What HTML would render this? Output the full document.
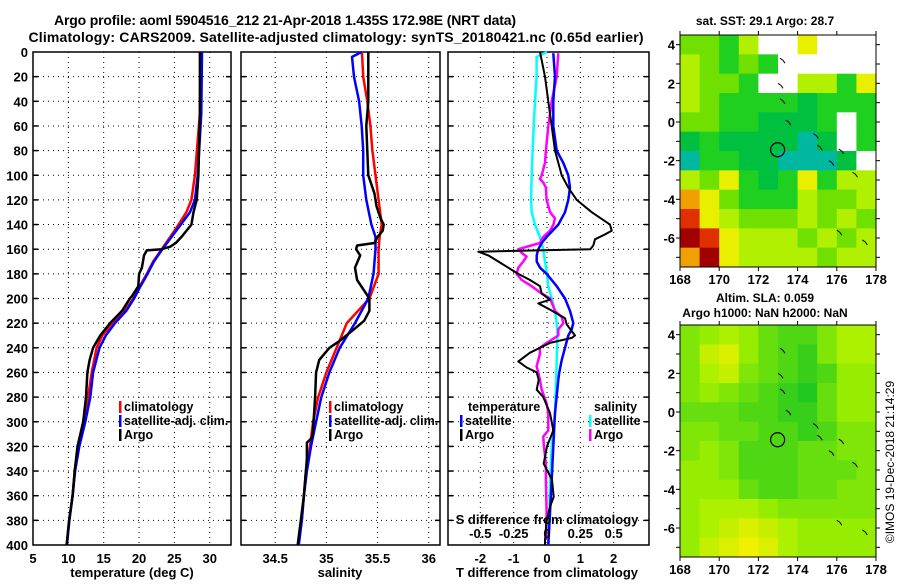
<!DOCTYPE html>
<html><head><meta charset="utf-8">
<style>
html,body{margin:0;padding:0;background:#fff;}
svg text{font-family:"Liberation Sans",Arial,sans-serif;font-weight:bold;fill:#000;}
</style></head>
<body>
<svg id="fig" width="900" height="580" xmlns="http://www.w3.org/2000/svg">
<text x="285" y="25" text-anchor="middle" font-size="14" textLength="462">Argo profile: aoml 5904516_212 21-Apr-2018 1.435S 172.98E (NRT data)</text>
<text x="336" y="42" text-anchor="middle" font-size="14" textLength="615">Climatology: CARS2009. Satellite-adjusted climatology: synTS_20180421.nc (0.65d earlier)</text>
<text x="765" y="25" text-anchor="middle" font-size="12">sat. SST: 29.1 Argo: 28.7</text>
<text x="765" y="302" text-anchor="middle" font-size="12">Altim. SLA: 0.059</text>
<text x="765" y="317" text-anchor="middle" font-size="12">Argo h1000: NaN h2000: NaN</text>
<text transform="translate(894,462) rotate(-90)" text-anchor="middle" font-size="12" font-weight="normal" style="font-weight:normal">©IMOS 19-Dec-2018 21:14:29</text>
</svg>
<script>
// ---- data ----
const depthTemp = [0,50,100,120,130,140,150,155,158,160,161,165,175,180,190,198,200,210,220,230,240,250,260,280,300,320,340,360,380,400];
const tempArgo = [28.6,28.6,28.4,28.15,27.7,27.4,26.0,25.2,24.4,23.2,21.1,20.7,20.4,20.0,19.9,19.0,18.7,17.6,15.9,14.5,13.5,13.0,12.7,12.5,12.1,11.3,10.9,10.6,10.1,9.75];
const depthClim = [0,50,100,120,130,140,150,160,170,180,190,200,210,220,230,240,260,280,300,320,340,360,380,400];
const tempClim = [28.7,28.6,27.9,27.4,26.7,25.6,24.4,23.2,22.0,21.1,20.1,19.2,18.0,16.2,14.8,14.0,13.3,12.8,12.1,11.4,10.9,10.6,10.1,9.8];
const tempSat = [28.9,28.8,28.3,27.9,27.2,25.9,24.6,23.3,22.1,21.2,20.2,19.3,18.2,16.6,15.3,14.4,13.5,13.1,12.4,11.55,10.95,10.6,10.15,9.8];

const depthSal = [0,4,20,40,60,80,100,120,140,150,160,180,200,220,240,260,280,300,320,340,360,380,400];
const salClim = [35.345,35.35,35.36,35.40,35.43,35.45,35.48,35.51,35.54,35.52,35.51,35.51,35.42,35.20,35.10,35.00,34.92,34.87,34.84,34.80,34.78,34.76,34.73];
const salSat = [35.345,35.25,35.27,35.32,35.345,35.36,35.36,35.39,35.44,35.48,35.48,35.46,35.41,35.28,35.13,35.03,34.95,34.90,34.85,34.81,34.78,34.76,34.73];
const depthSalArgo = [0,40,60,80,100,105,115,125,135,140,145,150,155,157,160,165,175,185,195,200,210,218,225,235,240,250,260,280,306,313,317,330,340,360,380,400];
const salArgo = [35.41,35.41,35.39,35.40,35.41,35.43,35.47,35.49,35.53,35.56,35.55,35.50,35.47,35.30,35.29,35.33,35.28,35.30,35.38,35.42,35.42,35.37,35.27,35.12,35.03,34.93,34.90,34.89,34.87,34.86,34.81,34.81,34.80,34.78,34.75,34.72];

const depthDT = [0,20,40,60,80,100,110,120,130,140,145,148,152,157,160,162,165,170,175,180,185,190,196,201,204,209,216,221,230,232,236,240,244,251,256,260,266,274,280,293,307,320,334,347,361,369,380,396,400];
const dTArgo = [-0.21,-0.06,0.04,0.14,0.24,0.44,0.64,0.89,1.34,1.89,1.94,1.74,1.44,1.39,1.3,-2.06,-1.76,-1.46,-1.16,-0.86,-0.51,-0.21,-0.16,0.09,-0.26,0.09,0.54,0.59,0.84,0.74,0.09,-0.21,-0.51,-0.86,-0.61,-0.31,-0.25,-0.31,-0.11,0.09,0.19,0,-0.1,0.15,0.2,0.09,-0.01,-0.06,-0.06];
const depthDTSat = [1,20,40,60,80,90,100,110,120,130,140,150,155,160,165,170,175,180,190,200,210,220,225,230,240,250,260,266,293,320,347,374,400];
const dTSat = [0.19,0.24,0.19,0.19,0.29,0.49,0.64,0.69,0.64,0.54,0.34,-0.01,-0.16,-0.26,-0.31,-0.31,-0.21,-0.01,0.29,0.54,0.69,0.79,0.74,0.64,0.54,0.44,0.37,0.34,0.24,0.19,0.14,0.09,0.04];
const depthDSSat = [0,4,20,40,60,80,100,120,130,140,150,160,170,180,190,200,210,220,230,250,266,293,320,347,374,400];
const dSSat = [0,-0.078,-0.078,-0.09,-0.10,-0.108,-0.115,-0.12,-0.115,-0.09,-0.053,-0.028,-0.015,0,0.01,0.035,0.06,0.073,0.078,0.073,0.068,0.06,0.035,0.023,0.018,0.01];
const depthDSArgo = [1,20,40,60,80,90,100,103,106,110,120,130,135,140,145,150,155,160,163,166,170,175,180,185,190,195,200,210,215,220,225,230,236,240,245,250,255,260,266,274,285,293,307,312,320,334,347,374,396];
const dSArgo = [0.085,0.073,0.035,0.01,-0.008,-0.015,-0.04,-0.053,-0.028,-0.008,-0.003,0.023,0.06,0.048,0.023,-0.028,-0.053,-0.215,-0.19,-0.153,-0.178,-0.215,-0.228,-0.19,-0.115,-0.053,0.023,0.06,0.11,0.123,0.085,0.085,-0.003,-0.053,-0.053,-0.065,-0.078,-0.065,-0.053,-0.04,-0.003,0.01,0.01,-0.028,-0.023,-0.008,-0.008,-0.003,-0.008];

const depthTicks = [0,20,40,60,80,100,120,140,160,180,200,220,240,260,280,300,320,340,360,380,400];
const tempTicks = [5,10,15,20,25,30];
const salTicks = [34.5,35,35.5,36];
const dTTicks = [-2,-1,0,1,2];
const dSTicks = [-0.5,-0.25,0,0.25,0.5];
const lonTicks = [168,170,172,174,176,178];
const latTicks = [4,2,0,-2,-4,-6];

// SST grid: rows lat 4.5 -> -7.5 (1 deg), cols lon 168 -> 178; 0 = missing
const sstRows = ["4435006000","5434300000","5443005536","5433332333","4433222303","2322221203","1332211120","5463236355","7643335445","8654445454","9865554545","7965555455"];
// SLA grid (0 = low/green, 9 = high/yellow)
const slaRows = ["4565322466","4785321466","4674321255","4543210355","3332211355","4433221244","4542223344","5542223334","5553223344","5666544444","5678765555","5789865555"];
const argoLon = 172.98, argoLat = -1.435;

// ---- drawing ----
const NS = "http://www.w3.org/2000/svg";
const svg = document.getElementById('fig');
function el(tag, attrs, parent){ const e=document.createElementNS(NS,tag); for(const k in attrs) e.setAttribute(k,attrs[k]); (parent||svg).appendChild(e); return e; }
function txt(x,y,s,size,anchor,parent){ const t=el('text',{x:x,y:y,'font-size':size,'text-anchor':anchor||'middle'},parent); t.textContent=s; return t; }

const Y0=52, Y1=545, DMAX=400;
const yD = d => Y0 + d*(Y1-Y0)/DMAX;

function panel(name, x0, x1, vmin, vmax, vgrid){
  const g = el('g',{});
  
  
  const xv = v => x0 + (v-vmin)*(x1-x0)/(vmax-vmin);
  depthTicks.forEach(d=>{ if(d>0&&d<400){ el('line',{x1:x0,x2:x1,y1:yD(d),y2:yD(d),stroke:'#000','stroke-width':1,'stroke-dasharray':'1 4'},g);
    el('line',{x1:x0,x2:x0+5,y1:yD(d),y2:yD(d),stroke:'#000','stroke-width':1.5},g);
    el('line',{x1:x1-5,x2:x1,y1:yD(d),y2:yD(d),stroke:'#000','stroke-width':1.5},g);} });
  vgrid.forEach(v=>{ el('line',{x1:xv(v),x2:xv(v),y1:Y0,y2:Y1,stroke:'#000','stroke-width':1,'stroke-dasharray':'1 4'},g); });
  el('rect',{x:x0,y:Y0,width:x1-x0,height:Y1-Y0,fill:'none',stroke:'#000','stroke-width':1.5},g);
  return {g, xv};
}
function line(p, depths, vals, color, name, w){
  const pts = depths.map((d,i)=> p.xv(vals[i]).toFixed(1)+','+yD(d).toFixed(1)).join(' ');
  const l = el('polyline',{points:pts,fill:'none',stroke:color,'stroke-width':w||2.5,'stroke-linejoin':'round'},p.g);
  
  
}

// y tick labels
depthTicks.forEach(d=>{ const t=txt(28,yD(d)+5,String(d),13,'end');
  
   });

// Panel 1
const p1 = panel('temperature-panel',33,231,5,5+198/7.07,[10,15,20,25,30]);
line(p1, depthClim, tempClim, '#ff0000', 'climatology-temp-line');
line(p1, depthClim, tempSat, '#0000ff', 'satellite-temp-line');
line(p1, depthTemp, tempArgo, '#000000', 'argo-temp-line');
tempTicks.forEach(v=>{ const t=txt(p1.xv(v),563,String(v),13);   });
{const t=txt(132,577,'temperature (deg C)',13);  }

// Panel 2
const p2 = panel('salinity-panel',241,440,34.166,36.11,[34.5,35,35.5,36]);
line(p2, depthSal, salClim, '#ff0000', 'climatology-sal-line');
line(p2, depthSal, salSat, '#0000ff', 'satellite-sal-line');
line(p2, depthSalArgo, salArgo, '#000000', 'argo-sal-line');
salTicks.forEach(v=>{ const t=txt(p2.xv(v),563,String(v),13);   });
{const t=txt(340,577,'salinity',13);  }

// Panel 3
const p3 = panel('difference-panel',448,649,-2.97,3.06,[-2,-1,0,1,2]);
const p3s = {g:p3.g, xv: v => p3.xv(v*4)};
line(p3s, depthDSSat, dSSat, '#00ffff', 'satellite-sal-diff-line');
line(p3s, depthDSArgo, dSArgo, '#ff00ff', 'argo-sal-diff-line');
line(p3, depthDTSat, dTSat, '#0000ff', 'satellite-temp-diff-line');
line(p3, depthDT, dTArgo, '#000000', 'argo-temp-diff-line', 2);
dTTicks.forEach(v=>{ const t=txt(p3.xv(v),563,String(v),13);   });
dSTicks.forEach(v=>{ const t=txt(p3s.xv(v),538,String(v),13);   });
{const t=txt(547,524,'S difference from climatology',13);  }
{const t=txt(547,577,'T difference from climatology',13);  }

// Legends
function legend(x, y, color, label, name){
  const g = el('g',{});
  
  
  el('rect',{x:x,y:y-10,width:2.5,height:12,fill:color},g);
  const t = txt(x+5,y,label,12.5,'start',g);
}
legend(119,411,'#ff0000','climatology','legend-climatology');
legend(119,425,'#0000ff','satellite-adj. clim.','legend-satellite-adj');
legend(119,439,'#000000','Argo','legend-argo');
legend(329,411,'#ff0000','climatology','legend-climatology-sal');
legend(329,425,'#0000ff','satellite-adj. clim.','legend-satellite-adj-sal');
legend(329,439,'#000000','Argo','legend-argo-sal');
{const t=txt(468,411,'temperature',12.5,'start');  }
legend(460,425,'#0000ff','satellite','legend-temp-satellite');
legend(460,439,'#000000','Argo','legend-temp-argo');
{const t=txt(594,411,'salinity',12.5,'start');  }
legend(589,425,'#00ffff','satellite','legend-sal-satellite');
legend(589,439,'#ff00ff','Argo','legend-sal-argo');

// Maps
const MX0=680, MX1=876, LON0=168, LON1=178, LATT=4.5, LATB=-7.5;
const sstColors = ['#ffffff','#00b8a0','#00c040','#20d020','#70e000','#b0f000','#e8f000','#f0a000','#e03000','#a00000'];
function slaColor(v){ const a=[[32,200,32],[160,240,0],[240,240,0]]; const t=v/9; let c; if(t<0.6){const f=t/0.6;c=a[0].map((x,i)=>x+(a[1][i]-x)*f);} else {const f=(t-0.6)/0.4;c=a[1].map((x,i)=>x+(a[2][i]-x)*f);} return 'rgb('+c.map(Math.round).join(',')+')'; }
function map(name, my0, my1, rows, colorFn){
  const g = el('g',{});
  
  
  const xl = lon => MX0 + (lon-LON0)*(MX1-MX0)/(LON1-LON0);
  const yl = lat => my0 + (LATT-lat)*(my1-my0)/(LATT-LATB);
  rows.forEach((row,ri)=>{ for(let ci=0;ci<row.length;ci++){
    const v=+row[ci]; const lat=LATT-ri, lon=LON0+ci;
    const c=el('rect',{x:xl(lon),y:yl(lat),width:xl(lon+1)-xl(lon)+0.5,height:yl(lat-1)-yl(lat)+0.5,fill:colorFn(v)},g);
    
    
  }});
  // coast bits
  [[173.1,3.3],[173,2],[173.1,1.2],[173.4,0.1],[174.8,-0.6],[175,-1.2],[176.1,-1.4],[175.6,-2],[176.8,-2.6],[176,-5.6],[177.3,-6.1]].forEach(p=>{
    el('path',{d:'M'+xl(p[0])+','+yl(p[1])+' l3,2 l2,3',fill:'none',stroke:'#000','stroke-width':1},g); });
  const circ = el('circle',{cx:xl(argoLon),cy:yl(argoLat),r:7,fill:'none',stroke:'#000','stroke-width':1.2},g);
  
  
  el('rect',{x:MX0,y:my0,width:MX1-MX0,height:my1-my0,fill:'none',stroke:'#000','stroke-width':1},g);
  for(let lat=-7;lat<=4;lat++){ el('line',{x1:MX0-4,x2:MX0,y1:yl(lat),y2:yl(lat),stroke:'#000'},g); el('line',{x1:MX1,x2:MX1+4,y1:yl(lat),y2:yl(lat),stroke:'#000'},g); }
  latTicks.forEach(v=>{ const t=txt(675,yl(v)+5,String(v),13,'end',g); });
  lonTicks.forEach(v=>{ el('line',{x1:xl(v),x2:xl(v),y1:my1,y2:my1+4,stroke:'#000'},g); el('line',{x1:xl(v),x2:xl(v),y1:my0-4,y2:my0,stroke:'#000'},g); txt(xl(v),my1+17,String(v),13,'middle',g); });
}
map('sst-map',35,267,sstRows,v=>sstColors[v]);
map('sla-map',325,557,slaRows,slaColor);
</script>
</body></html>
